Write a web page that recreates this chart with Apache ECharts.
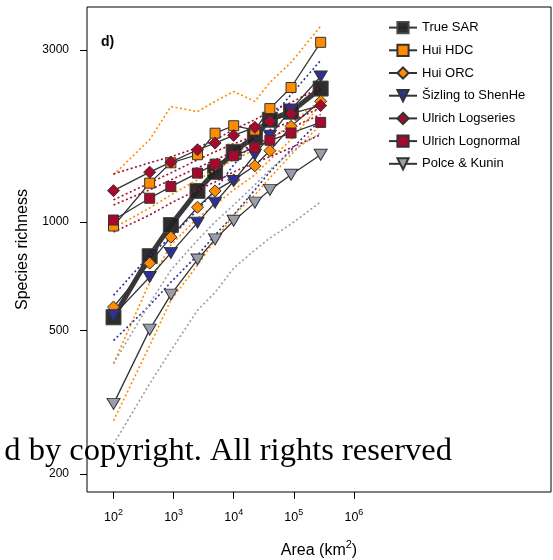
<!DOCTYPE html>
<html>
<head>
<meta charset="utf-8">
<script src="https://cdn.jsdelivr.net/npm/echarts@6/dist/echarts.min.js"></script>
<style>html,body{margin:0;padding:0;background:#fff}#c{width:553px;height:560px}</style>
</head>
<body>
<div id="c"></div>
<script>
// Areas (km^2)
var area = [100, 400, 900, 2500, 4900, 10000, 22500, 40000, 90000, 280000];
// Series values (species richness)
var trueSAR   = [544, 804, 981, 1220, 1378, 1566, 1725, 1923, 2024, 2346];
var huiHDC    = [975, 1282, 1460, 1537, 1764, 1850, 1800, 2064, 2362, 3152];
var huiORC    = [581, 769, 908, 1099, 1220, 1309, 1432, 1577, 1843, 2163];
var sizling   = [551, 704, 821, 996, 1132, 1300, 1537, 1736, 2051, 2534];
var logseries = [1222, 1375, 1466, 1587, 1656, 1739, 1831, 1903, 2000, 2104];
var lognormal = [1013, 1164, 1254, 1367, 1448, 1527, 1610, 1686, 1766, 1890];
var polce     = [313, 503, 629, 787, 895, 1008, 1132, 1228, 1352, 1537];
// Dotted bounds
var hdcUpper = [1352, 1692, 2091, 2025, 2160, 2302, 2160, 2439, 2772, 3493];
var hdcLower = [962, 1094, 1189, 1309, 1396, 1488, 1587, 1692, 1863, 2187];
var orcUpper = [405, 681, 863, 1026, 1115, 1228, 1352, 1488, 1692, 2118];
var orcLower = [281, 454, 607, 759, 891, 1046, 1189, 1326, 1537, 1863];
var sizUpper = [626, 809, 908, 1080, 1228, 1441, 1692, 1923, 2258, 2809];
var sizLower = [469, 587, 681, 809, 920, 1046, 1228, 1378, 1587, 1923];
var lsUpper  = [1360, 1460, 1517, 1608, 1692, 1804, 1923, 2025, 2146, 2362];
var lsLower  = [1115, 1228, 1309, 1414, 1488, 1567, 1639, 1714, 1827, 1987];
var lnUpper  = [1152, 1284, 1369, 1488, 1567, 1649, 1736, 1804, 1899, 2077];
var lnLower  = [938, 1046, 1129, 1228, 1292, 1378, 1460, 1517, 1608, 1747];
var pkUpper  = [405, 595, 735, 891, 1000, 1115, 1268, 1396, 1567, 1769];
var pkLower  = [242, 356, 440, 569, 638, 745, 836, 903, 987, 1137];
// Tick labels
var xTickExp = [2, 3, 4, 5, 6];
var yTicks = [200, 500, 1000, 3000];
var legendNames = ['True SAR', 'Hui HDC', 'Hui ORC', 'Šizling to ShenHe', 'Ulrich Logseries', 'Ulrich Lognormal', 'Polce & Kunin'];

var ORANGE = '#FF8C00', BLUE = '#2E3192', RED = '#A50A2D', GRAY = '#9C9DAA';
var L = Math.log10;
function pts(v) { return area.map(function (a, i) { return [L(a), L(v[i])]; }); }

function dotted(name, v, color) {
  return {
    type: 'line', name: name, data: pts(v), symbol: 'none', silent: true, z: 3,
    lineStyle: { color: color, width: 1.6, type: [2, 2.5] }
  };
}
function marked(name, v, color, symbol, size, rot) {
  return {
    type: 'line', name: name, data: pts(v), symbol: symbol, symbolSize: size,
    symbolRotate: rot || 0, z: 4,
    lineStyle: { color: '#333', width: 1.3 },
    itemStyle: { color: color, borderColor: '#333', borderWidth: 1 }
  };
}

var series = [
  {
    type: 'line', name: 'True SAR', data: pts(trueSAR), symbol: 'rect', symbolSize: 15, z: 2,
    lineStyle: { color: '#222', width: 5, opacity: 0.9 },
    itemStyle: { color: '#222', borderColor: '#444', borderWidth: 1, opacity: 0.95 }
  },
  dotted('hdcU', hdcUpper, ORANGE), dotted('hdcL', hdcLower, ORANGE),
  dotted('orcU', orcUpper, ORANGE), dotted('orcL', orcLower, ORANGE),
  dotted('sizU', sizUpper, BLUE), dotted('sizL', sizLower, BLUE),
  dotted('lsU', lsUpper, RED), dotted('lsL', lsLower, RED),
  dotted('lnU', lnUpper, RED), dotted('lnL', lnLower, RED),
  dotted('pkU', pkUpper, GRAY), dotted('pkL', pkLower, GRAY),
  marked('Hui HDC', huiHDC, ORANGE, 'rect', 10),
  marked('Hui ORC', huiORC, ORANGE, 'diamond', 12),
  marked('Šizling to ShenHe', sizling, BLUE, 'triangle', [13, 11], 180),
  marked('Ulrich Logseries', logseries, RED, 'diamond', 12),
  marked('Ulrich Lognormal', lognormal, RED, 'rect', 10),
  marked('Polce & Kunin', polce, GRAY, 'triangle', [13, 11], 180)
];

var chart = echarts.init(document.getElementById('c'), null, { renderer: 'canvas' });
chart.setOption({
  animation: false,
  backgroundColor: '#fff',
  title: { text: 'd)', left: 96, top: 30, textStyle: { fontSize: 14, fontWeight: 'bold', color: '#000', fontFamily: 'Liberation Sans' } },
  grid: { left: 87, right: 2, top: 7, bottom: 68, show: true, borderColor: '#000', borderWidth: 1, backgroundColor: 'transparent', outerBoundsMode: 'none', containLabel: false },
  legend: {
    data: legendNames, orient: 'vertical', left: 383, top: 16,
    itemWidth: 28, itemHeight: 14, itemGap: 9.5,
    textStyle: { fontSize: 13, color: '#000', fontFamily: 'Liberation Sans' }
  },
  xAxis: {
    type: 'value', min: 1.559, max: 9.28,
    axisLine: { show: false },
    splitLine: { show: false },
    axisTick: { show: true, length: 7, lineStyle: { color: '#000' }, customValues: xTickExp },
    axisLabel: {
      customValues: xTickExp, margin: 16, color: '#000', fontFamily: 'Liberation Sans',
      formatter: function (v) { return '{b|10}{s|' + Math.round(v) + '}'; },
      rich: { b: { fontSize: 12.5, fontFamily: 'Liberation Sans', color: '#000', verticalAlign: 'bottom' },
              s: { fontSize: 9, fontFamily: 'Liberation Sans', color: '#000', verticalAlign: 'bottom', padding: [0, 0, 7, 0] } }
    },
    name: '{b|Area (km}{s|2}{b|)}', nameLocation: 'middle', nameGap: 47,
    nameTextStyle: {
      rich: { b: { fontSize: 16, fontFamily: 'Liberation Sans', color: '#000', verticalAlign: 'bottom' },
              s: { fontSize: 11, fontFamily: 'Liberation Sans', color: '#000', verticalAlign: 'bottom', padding: [0, 0, 9, 0] } }
    }
  },
  yAxis: {
    type: 'value', min: 2.251, max: 3.5966,
    axisLine: { show: false },
    splitLine: { show: false },
    axisTick: { show: true, length: 7, lineStyle: { color: '#000' }, customValues: yTicks.map(L) },
    axisLabel: {
      customValues: yTicks.map(L), margin: 18, fontSize: 12, color: '#000', fontFamily: 'Liberation Sans',
      formatter: function (v) { return String(Math.round(Math.pow(10, v))); }
    },
    name: 'Species richness', nameLocation: 'middle', nameGap: 56,
    nameTextStyle: { fontSize: 16, color: '#000', fontFamily: 'Liberation Sans' }
  },
  graphic: [{
    type: 'text', right: 553 - 452, top: 435, z: 100,
    style: { text: 'd by copyright. All rights reserved', font: '32.5px "Liberation Serif"', fill: '#000' }
  }],
  series: series
});
</script>
</body>
</html>
